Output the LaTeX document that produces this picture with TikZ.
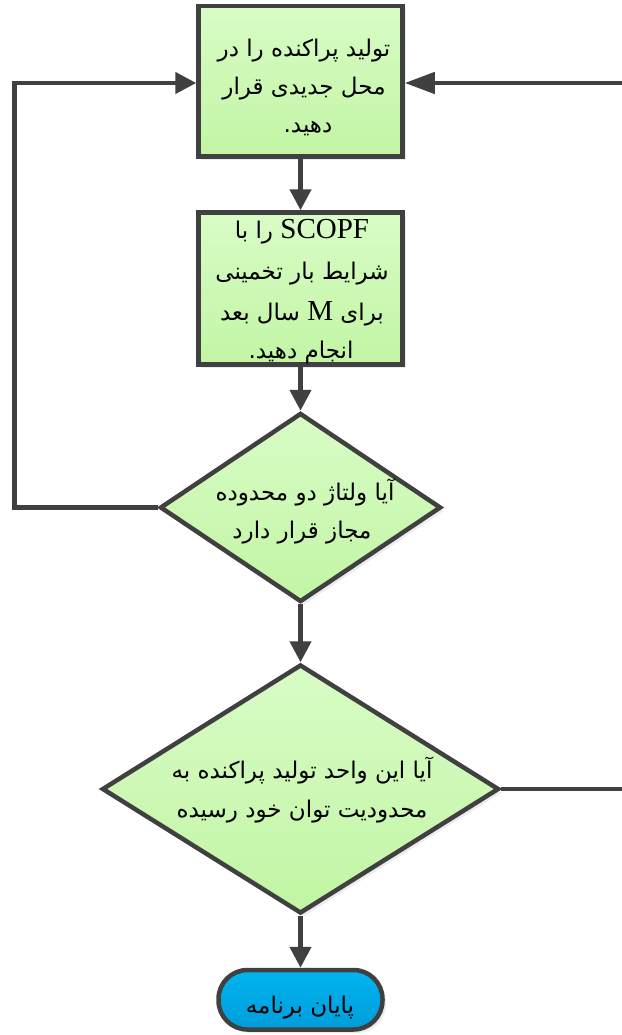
\documentclass[tikz,border=0pt]{standalone}
\usepackage{fontspec}
\usetikzlibrary{shapes.geometric,arrows.meta,shadows}
\TeXXeTstate=1
\newfontfamily\arabicfont[Script=Arabic]{DejaVu Sans}
\newfontfamily\latfont{Liberation Serif}
\newcommand\rl[1]{\beginR #1\endR}
\newcommand\lt[1]{\beginL{\latfont\fontsize{29}{38}\selectfont #1}\endL}
\definecolor{edge}{HTML}{404040}
\definecolor{gtop}{HTML}{D8FCC6}
\definecolor{gbot}{HTML}{C2F5A4}
\definecolor{btop}{HTML}{00B4F0}
\definecolor{bbot}{HTML}{009DDA}
\begin{document}
\begin{tikzpicture}[x=1pt,y=-1pt,
  shad/.style={drop shadow={shadow xshift=3.5pt,shadow yshift=-3.5pt,fill=black!15}},
  stepbox/.style={draw=edge,line width=4.5pt,top color=gtop,bottom color=gbot,inner sep=0pt,shad},
  dia/.style={diamond,draw=edge,line width=4.5pt,top color=gtop,bottom color=gbot,inner sep=0pt,shad},
  term/.style={draw=edge,line width=4.5pt,top color=btop,bottom color=bbot,rounded corners=29pt,inner sep=0pt,shad},
  txt/.style={font=\arabicfont\fontsize{23}{38}\selectfont,text=black,inner sep=0pt,anchor=base},
  conn/.style={draw=edge,line width=4.5pt},
  arr/.style={conn,-{Triangle[length=21pt,width=21pt]}},
  larr/.style={conn,-{Triangle[length=30pt,width=21pt]}}
]
\useasboundingbox (0,0) rectangle (621,1035);

\node[stepbox,minimum width=204pt,minimum height=150.5pt] (b1) at (300.5,81.25) {};
\node[txt] (t1a) at (304,57) {\rl{تولید پراکنده را در}};
\node[txt] (t1b) at (304,95) {\rl{محل جدیدی قرار}};
\node[txt] (t1c) at (308,133) {\rl{دهید.}};

\node[stepbox,minimum width=204pt,minimum height=152pt] (b2) at (300.5,288.5) {};
\node[txt] (t2a) at (302,238) {\rl{\lt{SCOPF} را با}};
\node[txt] (t2c) at (302,279) {\rl{شرایط بار تخمینی}};
\node[txt] (t2d) at (302,320) {\rl{برای \lt{M} سال بعد}};
\node[txt] (t2e) at (301,358) {\rl{انجام دهید.}};

\node[dia,minimum width=281pt,minimum height=189pt] (d1) at (300.5,507.5) {};
\node[txt] (t3a) at (305,500) {\rl{آیا ولتاژ دو محدوده}};
\node[txt] (t3b) at (302,538) {\rl{مجاز قرار دارد}};

\node[dia,minimum width=397pt,minimum height=249pt] (d2) at (300.5,789) {};
\node[txt] (t4a) at (302,778) {\rl{آیا این واحد تولید پراکنده به}};
\node[txt] (t4b) at (302,817) {\rl{محدودیت توان خود رسیده}};

\node[term,minimum width=164pt,minimum height=59.5pt] (e) at (300.5,999.75) {};
\node[txt] (t5) at (300,1013) {\rl{پایان برنامه}};

\coordinate (l1) at (14.5,507.5);
\coordinate (l2) at (14.5,83);
\coordinate (r1) at (628,789);
\coordinate (r2) at (628,83);

\draw[arr] (b1.south) -- (b2.north);
\draw[arr] (b2.south) -- (d1.north);
\draw[arr] (d1.south) -- (d2.north);
\draw[arr] (d2.south) -- (e.north);
\draw[arr] (d1.west) -- (l1) -- (l2) -- (b1.west |- l2);
\draw[larr] (d2.east) -- (r1) -- (r2) -- (b1.east |- r2);
\end{tikzpicture}
\end{document}
